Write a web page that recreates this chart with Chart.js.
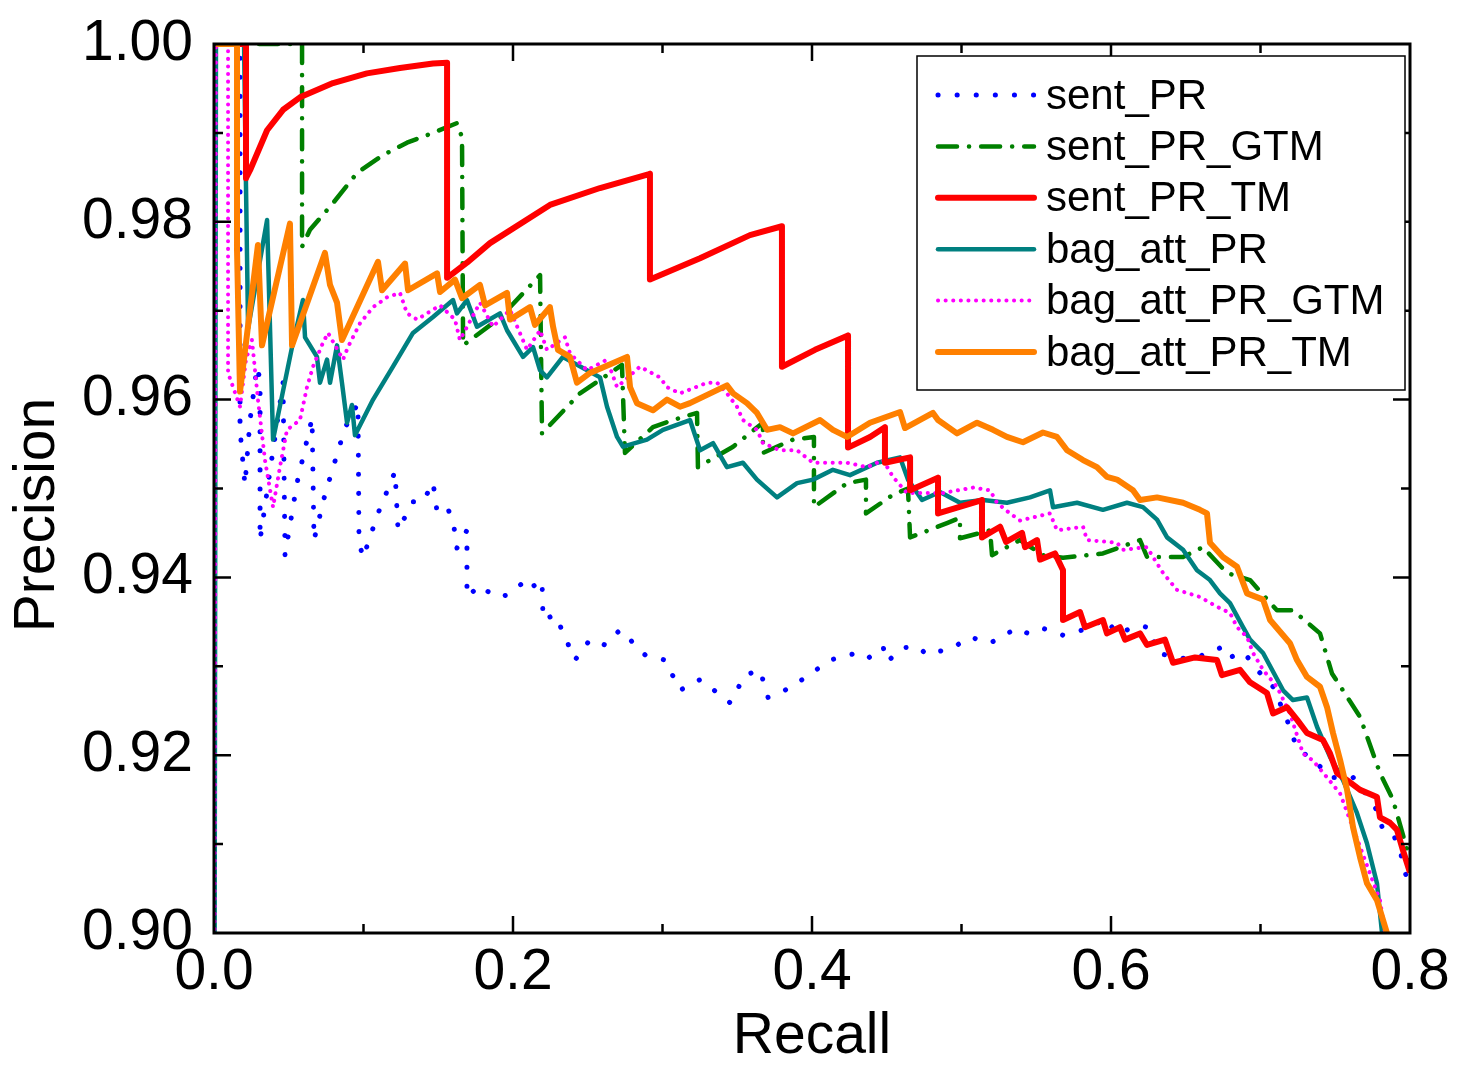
<!DOCTYPE html>
<html>
<head>
<meta charset="utf-8">
<title>Precision / Recall</title>
<script src="https://cdn.jsdelivr.net/npm/chart.js@4.4.1/dist/chart.umd.min.js"></script>
<style>
  html, body { margin: 0; padding: 0; background: #fff; }
  #wrap { width: 1457px; height: 1075px; }
</style>
</head>
<body>
<div id="wrap"><canvas id="prChart" width="1457" height="1075"></canvas></div>
<script>
// [recall, precision] pairs
const sentPR = [
  [0.0013,1.0],[0.0174,1.0],[0.0174,0.9566],[0.0207,0.9504],[0.0241,0.9577],[0.0288,0.9637],[0.0308,0.9622],
  [0.0308,0.9442],[0.0388,0.9535],[0.0462,0.9619],[0.0475,0.9425],[0.0555,0.9506],[0.0656,0.9579],[0.0669,0.9442],
  [0.0742,0.9493],[0.0876,0.9568],[0.0963,0.9596],[0.0970,0.9440],[0.0997,0.9422],[0.1097,0.9472],[0.1211,0.9519],
  [0.1231,0.9453],[0.1331,0.9485],[0.1398,0.9485],[0.1465,0.9507],[0.1492,0.9474],[0.1559,0.9479],[0.1599,0.9464],
  [0.1625,0.9433],[0.1692,0.9453],[0.1692,0.9378],[0.1779,0.9391],[0.1880,0.9378],[0.1960,0.9380],[0.2067,0.9394],
  [0.2100,0.9386],[0.2194,0.9397],[0.2201,0.9352],[0.2281,0.9358],[0.2314,0.9346],[0.2415,0.9307],[0.2515,0.9330],
  [0.2615,0.9324],[0.2716,0.9341],[0.2783,0.9330],[0.2883,0.9313],[0.3017,0.9307],[0.3117,0.9273],[0.3251,0.9285],
  [0.3385,0.9268],[0.3452,0.9259],[0.3552,0.9290],[0.3652,0.9296],[0.3706,0.9265],[0.3819,0.9273],[0.3953,0.9287],
  [0.4120,0.9307],[0.4301,0.9315],[0.4375,0.9309],[0.4475,0.9322],[0.4502,0.9305],[0.4609,0.9321],[0.4709,0.9322],
  [0.4769,0.9313],[0.4943,0.9321],[0.5057,0.9333],[0.5191,0.9326],[0.5371,0.9343],[0.5445,0.9337],[0.5538,0.9343],
  [0.5679,0.9335],[0.5860,0.9343],[0.5960,0.9354],[0.6040,0.9337],[0.6194,0.9346],[0.6261,0.9343],[0.6308,0.9315],
  [0.6462,0.9309],[0.6575,0.9310],[0.6749,0.9322],[0.6796,0.9310],[0.6883,0.9316],[0.6930,0.9307],[0.7017,0.9288],
  [0.7084,0.9277],[0.7177,0.9240],[0.7244,0.9208],[0.7378,0.9191],[0.7465,0.9175],[0.7619,0.9175],[0.7686,0.9161],
  [0.7779,0.9138],[0.7819,0.9116],[0.7886,0.9112],[0.7933,0.9093],[0.7980,0.9060],[0.8000,0.9046]
];

const sentPRGTM = [
  [0.0013,1.0],[0.0589,1.0],[0.0589,0.9772],[0.0642,0.9791],[0.0796,0.9821],[0.0957,0.9855],[0.1130,0.9875],
  [0.1291,0.9889],[0.1465,0.9900],[0.1625,0.9911],[0.1659,0.9895],[0.1666,0.9661],[0.1913,0.9692],[0.2181,0.9740],
  [0.2194,0.9562],[0.2261,0.9574],[0.2448,0.9607],[0.2729,0.9639],[0.2749,0.9540],[0.2936,0.9569],[0.3070,0.9577],
  [0.3231,0.9585],[0.3237,0.9524],[0.3472,0.9547],[0.3672,0.9574],[0.3672,0.9540],[0.3873,0.9555],[0.4013,0.9558],
  [0.4013,0.9479],[0.4234,0.9506],[0.4361,0.9510],[0.4361,0.9472],[0.4542,0.9493],[0.4642,0.9500],[0.4656,0.9445],
  [0.4903,0.9461],[0.4990,0.9467],[0.4990,0.9444],[0.5191,0.9453],[0.5204,0.9425],[0.5391,0.9442],[0.5545,0.9425],
  [0.5679,0.9422],[0.5946,0.9427],[0.6194,0.9442],[0.6241,0.9423],[0.6482,0.9423],[0.6615,0.9434],[0.6776,0.9405],
  [0.6930,0.9397],[0.7110,0.9363],[0.7217,0.9363],[0.7398,0.9337],[0.7478,0.9292],[0.7666,0.9243],[0.7799,0.9180],
  [0.7886,0.9150],[0.7987,0.9090],[0.8000,0.9080]
];

const sentPRTM = [
  [0.0013,1.0],[0.0214,1.0],[0.0214,0.9849],[0.0241,0.9858],[0.0355,0.9903],[0.0462,0.9926],[0.0575,0.9940],
  [0.0796,0.9956],[0.1023,0.9967],[0.1244,0.9973],[0.1465,0.9978],[0.1559,0.9979],[0.1559,0.9737],[0.1692,0.9754],
  [0.1846,0.9776],[0.2247,0.9819],[0.2582,0.9838],
  [0.2916,0.9854],[0.2916,0.9735],[0.3251,0.9759],[0.3585,0.9785],[0.3799,0.9795],[0.3799,0.9637],[0.4020,0.9656],
  [0.4241,0.9672],[0.4241,0.9546],[0.4388,0.9558],[0.4488,0.9569],[0.4488,0.9529],[0.4656,0.9535],[0.4656,0.9498],
  [0.4843,0.9512],[0.4843,0.9472],[0.5137,0.9487],[0.5137,0.9445],[0.5258,0.9457],[0.5298,0.9440],[0.5405,0.9450],
  [0.5425,0.9434],[0.5505,0.9442],[0.5525,0.9420],[0.5625,0.9427],[0.5679,0.9408],[0.5679,0.9352],[0.5793,0.9361],
  [0.5826,0.9344],[0.5946,0.9352],[0.5973,0.9337],[0.6060,0.9344],[0.6094,0.9330],[0.6194,0.9337],[0.6241,0.9324],
  [0.6361,0.9330],[0.6415,0.9304],[0.6562,0.9310],[0.6709,0.9307],[0.6742,0.9290],[0.6863,0.9296],[0.6930,0.9282],
  [0.7043,0.9270],[0.7084,0.9247],[0.7177,0.9254],[0.7244,0.9240],[0.7311,0.9225],[0.7418,0.9217],[0.7465,0.9202],
  [0.7512,0.9180],[0.7579,0.9172],[0.7666,0.9161],[0.7779,0.9153],[0.7799,0.9130],[0.7866,0.9124],[0.7913,0.9116],
  [0.7953,0.9093],[0.8000,0.9068]
];

const bagAttPR = [
  [0.0,0.85],[0.0013,1.0],[0.0201,1.0],[0.0214,0.9840],[0.0228,0.9680],[0.0355,0.9802],[0.0395,0.9555],
  [0.0522,0.9659],[0.0595,0.9712],[0.0609,0.9670],[0.0689,0.9648],[0.0709,0.9619],[0.0756,0.9645],[0.0776,0.9619],
  [0.0823,0.9661],[0.0856,0.9619],[0.0890,0.9574],[0.0923,0.9594],[0.0943,0.9560],[0.1064,0.9600],[0.1197,0.9637],
  [0.1331,0.9675],[0.1465,0.9693],[0.1599,0.9712],[0.1625,0.9697],[0.1692,0.9712],[0.1759,0.9682],[0.1913,0.9697],
  [0.1960,0.9678],[0.2067,0.9648],[0.2134,0.9659],[0.2181,0.9633],[0.2227,0.9625],[0.2334,0.9648],[0.2582,0.9625],
  [0.2629,0.9592],[0.2696,0.9558],[0.2736,0.9547],[0.2896,0.9555],[0.3003,0.9566],[0.3184,0.9577],[0.3251,0.9543],
  [0.3338,0.9551],[0.3431,0.9524],[0.3538,0.9529],[0.3632,0.9510],[0.3766,0.9490],[0.3900,0.9506],[0.4007,0.9510],
  [0.4140,0.9521],[0.4254,0.9515],[0.4435,0.9529],[0.4589,0.9535],[0.4642,0.9510],[0.4736,0.9487],[0.4856,0.9496],
  [0.4990,0.9484],[0.5144,0.9487],[0.5304,0.9484],[0.5458,0.9490],[0.5592,0.9498],[0.5612,0.9479],[0.5773,0.9484],
  [0.5946,0.9476],[0.6107,0.9484],[0.6214,0.9479],[0.6308,0.9465],[0.6375,0.9445],[0.6482,0.9431],[0.6575,0.9408],
  [0.6662,0.9397],[0.6729,0.9382],[0.6796,0.9371],[0.6883,0.9344],[0.6930,0.9330],[0.7017,0.9315],[0.7151,0.9273],
  [0.7217,0.9262],[0.7311,0.9265],[0.7378,0.9232],[0.7465,0.9198],[0.7552,0.9172],[0.7645,0.9135],[0.7712,0.9101],
  [0.7779,0.9056],[0.7813,0.9000]
];

const bagAttPRGTM = [
  [0.0,0.85],[0.0013,1.0],[0.0094,1.0],[0.0094,0.9630],[0.0174,0.9592],[0.0214,0.9645],[0.0254,0.9667],
  [0.0294,0.9600],[0.0341,0.9532],[0.0395,0.9479],[0.0441,0.9524],[0.0488,0.9566],[0.0575,0.9577],[0.0622,0.9614],
  [0.0662,0.9637],[0.0729,0.9664],[0.0763,0.9675],[0.0863,0.9645],[0.0896,0.9659],[0.0977,0.9686],[0.1064,0.9704],
  [0.1157,0.9715],[0.1244,0.9720],[0.1291,0.9697],[0.1358,0.9690],[0.1512,0.9706],[0.1612,0.9690],[0.1645,0.9667],
  [0.1779,0.9709],[0.1866,0.9682],[0.1980,0.9701],[0.2094,0.9656],[0.2181,0.9678],[0.2227,0.9656],[0.2348,0.9670],
  [0.2381,0.9652],[0.2495,0.9633],[0.2629,0.9645],[0.2696,0.9614],[0.2849,0.9637],[0.2983,0.9625],[0.3030,0.9614],
  [0.3117,0.9607],[0.3298,0.9619],[0.3365,0.9619],[0.3431,0.9607],[0.3498,0.9592],[0.3538,0.9577],[0.3632,0.9566],
  [0.3672,0.9551],[0.3786,0.9543],[0.3900,0.9543],[0.4007,0.9529],[0.4234,0.9529],[0.4368,0.9524],[0.4475,0.9532],
  [0.4542,0.9513],[0.4635,0.9495],[0.4876,0.9495],[0.5077,0.9501],[0.5191,0.9498],[0.5237,0.9484],[0.5324,0.9472],
  [0.5391,0.9464],[0.5592,0.9472],[0.5639,0.9453],[0.5813,0.9457],[0.5839,0.9442],[0.6040,0.9439],[0.6080,0.9431],
  [0.6241,0.9434],[0.6281,0.9423],[0.6348,0.9405],[0.6441,0.9386],[0.6595,0.9378],[0.6709,0.9367],[0.6796,0.9360],
  [0.6843,0.9344],[0.6910,0.9333],[0.6950,0.9315],[0.7017,0.9296],[0.7110,0.9277],[0.7197,0.9247],[0.7284,0.9202],
  [0.7351,0.9194],[0.7445,0.9175],[0.7532,0.9157],[0.7599,0.9127],[0.7666,0.9097],[0.7732,0.9067],[0.7799,0.9037],
  [0.7833,0.9000]
];

const bagAttPRTM = [
  [0.0013,1.0],[0.0154,1.0],[0.0154,0.9768],[0.0174,0.9609],[0.0294,0.9774],[0.0321,0.9661],[0.0508,0.9798],
  [0.0522,0.9661],[0.0742,0.9765],[0.0776,0.9729],[0.0823,0.9709],[0.0856,0.9667],[0.1097,0.9755],[0.1124,0.9723],
  [0.1278,0.9753],[0.1298,0.9723],[0.1492,0.9742],[0.1512,0.9721],[0.1612,0.9735],[0.1659,0.9714],[0.1779,0.9729],
  [0.1813,0.9706],[0.1960,0.9720],[0.1980,0.9690],[0.2114,0.9704],[0.2147,0.9684],[0.2247,0.9704],[0.2268,0.9682],
  [0.2301,0.9656],[0.2381,0.9648],[0.2428,0.9619],[0.2515,0.9630],[0.2763,0.9648],[0.2783,0.9614],[0.2829,0.9596],
  [0.2936,0.9588],[0.3030,0.9600],[0.3117,0.9592],[0.3184,0.9596],[0.3431,0.9616],[0.3472,0.9607],[0.3565,0.9596],
  [0.3632,0.9585],[0.3699,0.9566],[0.3786,0.9569],[0.3873,0.9562],[0.4054,0.9577],[0.4140,0.9566],[0.4234,0.9558],
  [0.4388,0.9574],[0.4589,0.9586],[0.4622,0.9568],[0.4809,0.9585],[0.4843,0.9577],[0.4970,0.9562],[0.5104,0.9574],
  [0.5211,0.9566],[0.5304,0.9558],[0.5411,0.9552],[0.5545,0.9563],[0.5639,0.9558],[0.5706,0.9543],[0.5813,0.9532],
  [0.5906,0.9524],[0.5973,0.9513],[0.6040,0.9510],[0.6147,0.9498],[0.6194,0.9487],[0.6308,0.9490],[0.6482,0.9484],
  [0.6595,0.9476],[0.6642,0.9472],[0.6662,0.9439],[0.6749,0.9423],[0.6843,0.9412],[0.6910,0.9382],[0.7017,0.9375],
  [0.7064,0.9352],[0.7197,0.9326],[0.7244,0.9307],[0.7311,0.9288],[0.7398,0.9277],[0.7445,0.9254],[0.7485,0.9225],
  [0.7532,0.9195],[0.7579,0.9161],[0.7619,0.9119],[0.7666,0.9085],[0.7712,0.9056],[0.7779,0.9037],[0.7846,0.9000]
];

const seriesNames = ['sent_PR', 'sent_PR_GTM', 'sent_PR_TM', 'bag_att_PR', 'bag_att_PR_GTM', 'bag_att_PR_TM'];
const xTickLabels = ['0.0', '0.2', '0.4', '0.6', '0.8'];
const yTickLabels = ['0.90', '0.92', '0.94', '0.96', '0.98', '1.00'];

const AXIS_FONT = "'Liberation Sans', Arial, sans-serif";

const toPoints = arr => arr.map(p => ({ x: p[0], y: p[1] }));

const datasets = [
  { label: seriesNames[0], data: toPoints(sentPR), borderColor: '#0000FF', borderWidth: 5,
    borderDash: [0.1, 19], borderCapStyle: 'round', order: 5 },
  { label: seriesNames[1], data: toPoints(sentPRGTM), borderColor: '#008000', borderWidth: 4.5,
    borderDash: [19, 12, 0.1, 12], borderCapStyle: 'round', order: 4 },
  { label: seriesNames[2], data: toPoints(sentPRTM), borderColor: '#FF0000', borderWidth: 6,
    borderDash: [], borderCapStyle: 'butt', order: 1 },
  { label: seriesNames[3], data: toPoints(bagAttPR), borderColor: '#008080', borderWidth: 4.5,
    borderDash: [], borderCapStyle: 'butt', order: 3 },
  { label: seriesNames[4], data: toPoints(bagAttPRGTM), borderColor: '#FF00FF', borderWidth: 4,
    borderDash: [0.1, 7.5], borderCapStyle: 'round', order: 2 },
  { label: seriesNames[5], data: toPoints(bagAttPRTM), borderColor: '#FF8000', borderWidth: 6,
    borderDash: [], borderCapStyle: 'butt', order: 0 },
];
datasets.forEach(d => { d.fill = false; d.pointRadius = 0; d.tension = 0; d.borderJoinStyle = 'round'; });

// box + inward ticks on all four sides, and the rotated y title
const frameTicks = {
  id: 'frameTicks',
  afterDatasetsDraw(chart) {
    const { ctx, chartArea: a, scales: { x, y } } = chart;
    ctx.save();
    ctx.strokeStyle = '#000';
    ctx.lineWidth = 2.5;
    ctx.beginPath();
    for (let i = 1; i < 8; i++) {
      const px = x.getPixelForValue(i / 10);
      const len = i % 2 === 0 ? 17 : 9;
      ctx.moveTo(px, a.bottom); ctx.lineTo(px, a.bottom - len);
      ctx.moveTo(px, a.top); ctx.lineTo(px, a.top + len);
    }
    for (let i = 1; i < 10; i++) {
      const py = y.getPixelForValue(0.9 + i / 100);
      const len = i % 2 === 0 ? 17 : 9;
      ctx.moveTo(a.left, py); ctx.lineTo(a.left + len, py);
      ctx.moveTo(a.right, py); ctx.lineTo(a.right - len, py);
    }
    ctx.stroke();
    ctx.lineWidth = 3;
    ctx.strokeRect(a.left, a.top, a.right - a.left, a.bottom - a.top);

    ctx.translate(38, 515);
    ctx.rotate(-Math.PI / 2);
    ctx.font = '57px ' + AXIS_FONT;
    ctx.fillStyle = '#000';
    ctx.textAlign = 'center';
    ctx.textBaseline = 'middle';
    ctx.fillText('Precision', 0, 0);
    ctx.restore();
  }
};

const legendBox = {
  id: 'legendBox',
  afterDraw(chart) {
    const { ctx, chartArea: a } = chart;
    const left = a.right - 493, top = a.top + 12, w = 488, h = 334;
    ctx.save();
    ctx.fillStyle = '#fff';
    ctx.fillRect(left, top, w, h);
    ctx.strokeStyle = '#000';
    ctx.lineWidth = 1.5;
    ctx.strokeRect(left, top, w, h);
    ctx.font = '42px ' + AXIS_FONT;
    ctx.textBaseline = 'middle';
    ctx.fillStyle = '#000';
    chart.data.datasets.forEach((d, i) => {
      const cy = top + 39 + i * 51.4;
      ctx.strokeStyle = d.borderColor;
      ctx.lineWidth = d.borderWidth;
      ctx.lineCap = 'round';
      ctx.setLineDash(d.borderDash);
      ctx.beginPath();
      ctx.moveTo(left + 21, cy);
      ctx.lineTo(left + 117, cy);
      ctx.stroke();
      ctx.setLineDash([]);
      ctx.fillText(d.label, left + 129, cy + 2);
    });
    ctx.restore();
  }
};

new Chart(document.getElementById('prChart'), {
  type: 'line',
  data: { datasets },
  options: {
    responsive: false,
    animation: false,
    devicePixelRatio: 1,
    layout: { padding: { top: 44, right: 47, left: 0, bottom: 0 } },
    plugins: { legend: { display: false }, tooltip: { enabled: false } },
    scales: {
      x: {
        type: 'linear', min: 0, max: 0.8,
        afterFit: s => { s.height = 142; s.paddingLeft = 0; s.paddingRight = 0; },
        afterBuildTicks: s => { s.ticks = xTickLabels.map(t => ({ value: parseFloat(t) })); },
        grid: { display: false, drawTicks: false },
        border: { display: false },
        ticks: {
          autoSkip: false, maxRotation: 0, padding: 6, color: '#000',
          font: { family: AXIS_FONT, size: 57 },
          callback: (v, i) => xTickLabels[i]
        },
        title: { display: true, text: 'Recall', color: '#000', font: { family: AXIS_FONT, size: 57 },
                 padding: { top: 0, bottom: 4 } }
      },
      y: {
        min: 0.9, max: 1.0,
        afterFit: s => { s.width = 214; s.paddingTop = 0; s.paddingBottom = 0; },
        afterBuildTicks: s => { s.ticks = yTickLabels.map(t => ({ value: parseFloat(t) })); },
        grid: { display: false, drawTicks: false },
        border: { display: false },
        ticks: {
          autoSkip: false, padding: 21, color: '#000',
          font: { family: AXIS_FONT, size: 57 },
          callback: (v, i) => yTickLabels[i]
        },
        title: { display: false }
      }
    }
  },
  plugins: [frameTicks, legendBox]
});
</script>
</body>
</html>
